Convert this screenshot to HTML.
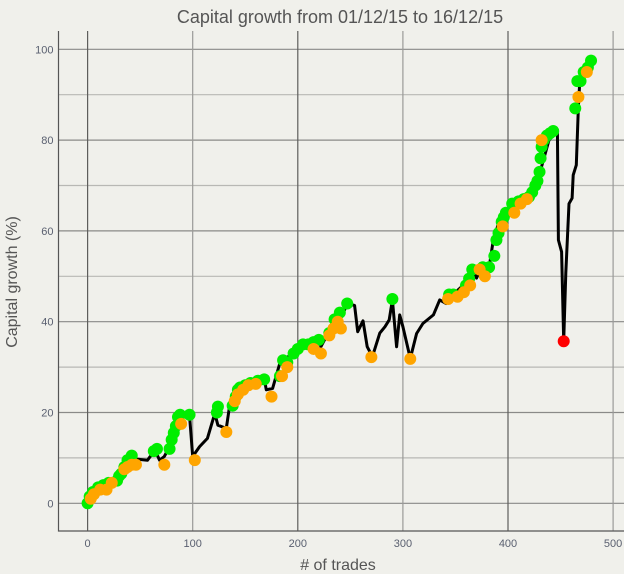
<!DOCTYPE html>
<html><head><meta charset="utf-8"><style>
html,body{margin:0;padding:0;background:#f0f0eb;}
svg{display:block;font-family:"Liberation Sans","DejaVu Sans",sans-serif;}
</style></head><body>
<svg id="chart" width="624" height="574">
<rect width="624" height="574" fill="#f0f0eb"/>
<text x="340" y="23" text-anchor="middle" font-size="18" fill="#555">Capital growth from 01/12/15 to 16/12/15</text>
<text transform="translate(17,282) rotate(-90)" text-anchor="middle" font-size="16" fill="#555">Capital growth (%)</text>
<text x="338" y="570" text-anchor="middle" font-size="16" fill="#555"># of trades</text>
<g id="grid"></g><g id="series"></g><g id="points"></g><g id="ticks"></g>
</svg>
<script>
const lineT=[0,10,20,30,40,48,57,64,68.5,73,78,87.5,97,100,106.6,114,121,124,132,135,144.6,160.5,168,170,176,183,195,205,219,222,227,237,244.5,247,254,257,262,266,271,278,283,287,290,294,297,300,307,313,319,329,335,341,344,363,367,370,375,381,386,392,398,405,419,427,431,439,447,448,451,453,455,458,461,462,465,467,468,470,474,481];
const lineV=[0,3,4.5,6.5,10,9.7,9.5,11.7,9.5,10.3,12.5,19.4,19.4,10.3,12.5,14.3,19.8,17.2,16.5,21.3,25.7,26.4,27.5,25,25.3,30.9,33,35.2,36.7,34.5,36.7,40.4,42.6,44,43.6,37.8,40.2,34.5,32.3,37.5,38.9,40.4,44.8,34.5,41.5,38.9,31.9,37.4,39.6,41.5,44.8,44,45.2,49.2,51.4,49.6,52.1,50.3,58,62.4,63.9,65.3,67.9,69.7,73.4,80,82.2,58,55.4,35.7,50.7,66,67.2,72.3,74.5,87.4,91.8,92.9,94.7,98];
const greenT=[0,2,5,10,15,20,28,30,32,35,38,42,63,66,78,80,82,84,86,88,97,123,124,138,141,143,145,150,155,162,168,183,186,190,196,200,205,210,215,220,230,235,240,247,290,344,348,360,363,366,376,382,387,389,391,394,396,398,404,410,415,420,423,426,428,430,431,432,434,437,440,443,464,466,469,472,476,479];
const greenV=[0,1.5,2.5,3.5,4,4.5,5,6,6.5,8,9.5,10.5,11.5,12,12,14,15.5,17,19,19.5,19.5,20,21.3,21.5,23.5,25,25.5,26,26.5,27,27.3,28,31.5,31,33,34,35,35,35.5,36,37.5,40.5,42,44,45,46,46,48,49.5,51.5,52,52,54.5,58,59.5,62,63,64,66,66.5,67,67.5,68.5,70,71,73,76,78.5,80,81,81.5,82,87,93,93,95,96,97.5];
const orangeT=[3,6,12,18,23,35,38,42,46,73,89,102,132,140,143,148,153,160,175,185,190,215,222,230,234,238,241,270,307,343,352,358,364,373,378,395,406,412,418,432,467,475];
const orangeV=[1,2,3,3,4.5,7.5,8,8.5,8.5,8.5,17.5,9.5,15.7,22.5,24,25,26,26.3,23.5,28,30,34,33,37,38.5,40,38.5,32.2,31.8,45,45.5,46.5,48,51.5,50,61,64,66,67,80,89.5,95];
const redT=[453];
const redV=[35.7];
const xTicks=[0,100,200,300,400,500];
const yTicks=[0,20,40,60,80,100];

const NS='http://www.w3.org/2000/svg';
const X=t=>87.6+1.051*t;
const Y=v=>503.3-4.54*v;
function mk(tag,attrs,parent){const e=document.createElementNS(NS,tag);for(const k in attrs)e.setAttribute(k,attrs[k]);parent.appendChild(e);return e;}
const grid=document.getElementById('grid'),ticks=document.getElementById('ticks'),series=document.getElementById('series'),pts=document.getElementById('points');
const L=58.5,T=31,B=531,R=624;
for(let v=-10;v<=100;v+=10){const y=Y(v);if(y<T||y>B)continue;
 const major=v%20===0;
 const g=mk('line',{x1:L,x2:R,y1:y,y2:y,stroke:major?'#8a8a88':'#b8b8b4','stroke-width':1.2},grid);
 
 }
for(let t=0;t<=500;t+=100){const x=X(t);
 const major=t%200===0;
 const g=mk('line',{x1:x,x2:x,y1:T,y2:B,stroke:major?'#5e5e5c':'#9a9a98','stroke-width':1.2},grid);
 
 }
const ax=mk('path',{d:`M${L},${T}V${B}H${R}`,fill:'none',stroke:'#555','stroke-width':1.2},grid);


yTicks.forEach(v=>{const tx=mk('text',{x:L-5,y:Y(v)+4,'text-anchor':'end','font-size':11,fill:'#5a6070'},ticks);tx.textContent=v;
 
 });
xTicks.forEach(t=>{const tx=mk('text',{x:X(t),y:B+16,'text-anchor':'middle','font-size':11,fill:'#5a6070'},ticks);tx.textContent=t;
 
 });
const d=lineT.map((t,i)=>(i?'L':'M')+X(t).toFixed(1)+','+Y(lineV[i]).toFixed(1)).join('');
const ln=mk('path',{d:d,fill:'none',stroke:'#000','stroke-width':3,'stroke-linejoin':'round'},series);


function dots(ts,vs,col,name){ts.forEach((t,i)=>{const c=mk('circle',{cx:X(t),cy:Y(vs[i]),r:6,fill:col},pts);
 
 });}
dots(greenT,greenV,'#00ee00','win-point');
dots(orangeT,orangeV,'#ffa500','loss-point');
dots(redT,redV,'#ff0000','min-point');
</script>
</body></html>
